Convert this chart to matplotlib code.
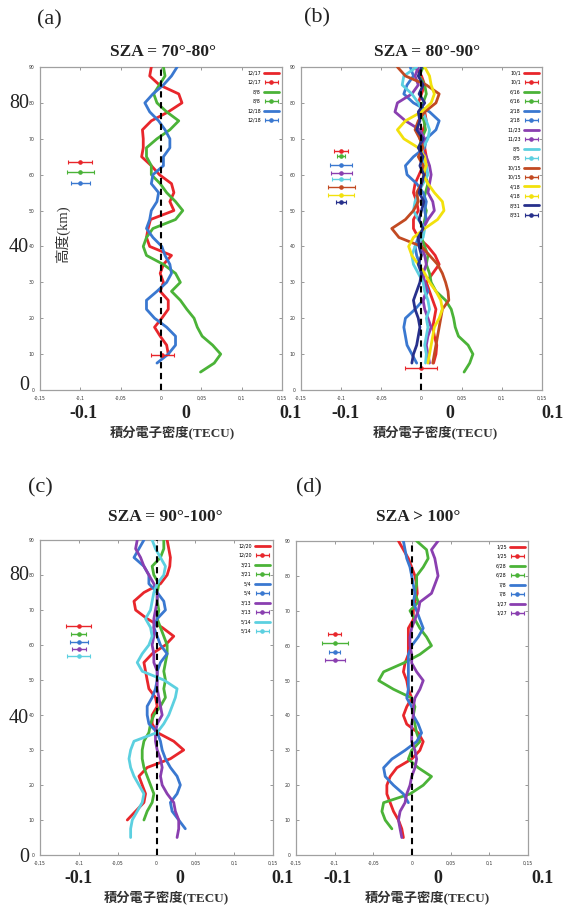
import matplotlib
matplotlib.use('Agg')
import matplotlib.pyplot as plt
from matplotlib.ticker import FuncFormatter, MultipleLocator
from matplotlib.container import ErrorbarContainer
from matplotlib.legend_handler import HandlerErrorbar

# ---------------- data ----------------
ALT = [90, 87.5, 85, 82.5, 80, 77.5, 75, 72.5, 70, 67.5, 65, 62.5, 60, 57.5, 55, 52.5, 50,
       47.5, 45, 42.5, 40, 37.5, 35, 32.5, 30, 27.5, 25, 22.5, 20, 17.5, 15, 12.5, 10, 7.5, 5]

# panel (a) SZA = 70-80
A_LABELS = ['12/17', '8/8', '12/18']
A_1217 = [-0.012, -0.014, -0.002, 0.022, 0.026, 0.009, -0.012, -0.023, -0.022, -0.022, -0.024,
          -0.012, -0.002, 0.013, 0.016, 0.011, 0.016, -0.013, -0.016, -0.018, -0.014, 0.013,
          0.003, -0.001, 0.003, -0.001, 0.009, 0.009, 0.001, -0.008, -0.001, 0.007, 0.009]
A_88 = [0.003, 0.005, -0.002, -0.009, -0.005, 0.007, 0.022, 0.011, -0.005, -0.018, -0.018,
        -0.012, -0.012, -0.001, 0.007, 0.018, 0.027, 0.018, -0.010, -0.018, -0.022, -0.018,
        0.003, 0.018, 0.024, 0.013, 0.024, 0.032, 0.041, 0.045, 0.051, 0.064, 0.074, 0.066, 0.049]
A_1218 = [0.020, 0.013, 0.003, -0.010, -0.020, -0.014, -0.003, 0.005, 0.011, 0.011, 0.003,
          0.003, -0.010, -0.012, -0.003, -0.005, -0.012, -0.014, -0.018, -0.010, 0.001, 0.005,
          0.011, 0.013, 0.007, -0.005, -0.018, -0.018, -0.008, 0.007, 0.018, 0.018, 0.009, -0.005]
A_ERR_X = [[-0.1, 0.0015], [-0.1], [-0.1]]
A_ERR_Y = [[63.4, 9.7], [60.7], [57.6]]
A_ERR_W = [[0.015, 0.0145], [0.017], [0.012]]

# panel (b) SZA = 80-90
B_LABELS = ['10/1', '6/16', '2/18', '11/23', '8/5', '10/15', '4/18', '8/31']
B_101 = [-0.008, 0.0, 0.004, 0.0, -0.004, 0.004, 0.006, 0.002, -0.002, 0.004, 0.006, 0.002,
         -0.003, -0.008, -0.010, -0.006, -0.004, -0.010, -0.010, -0.004, 0.008, 0.017, 0.022,
         0.014, 0.006, 0.010, 0.014, 0.018, 0.016, 0.014, 0.016, 0.019, 0.018, 0.015]
B_616 = [0.002, -0.003, 0.004, 0.006, 0.002, -0.002, 0.003, 0.005, 0.0, -0.003, 0.003, 0.006,
         0.004, 0.008, 0.005, 0.002, 0.006, 0.004, 0.002, 0.0, 0.004, 0.008, 0.006, 0.010, 0.012,
         0.018, 0.030, 0.037, 0.040, 0.042, 0.046, 0.058, 0.064, 0.060, 0.053]
B_218 = [-0.014, -0.010, -0.018, -0.022, -0.010, 0.010, 0.022, 0.018, 0.006, 0.004, -0.010,
         -0.020, -0.018, -0.006, 0.002, 0.006, 0.004, 0.006, 0.002, -0.004, -0.008, -0.006,
         -0.002, 0.0, 0.004, 0.008, 0.002, -0.008, -0.020, -0.022, -0.020, -0.018, -0.012, -0.006]
B_1123 = [-0.004, -0.008, -0.004, -0.012, -0.030, -0.033, -0.020, -0.002, 0.004, -0.002, 0.006,
          0.010, 0.012, 0.010, 0.008, 0.014, 0.016, 0.008, 0.002, -0.002, 0.0, 0.004, 0.006,
          0.002, 0.004, 0.006, 0.002, 0.004, 0.008, 0.012, 0.008, 0.006, 0.008, 0.010]
B_85 = [-0.006, -0.022, -0.024, -0.012, -0.004, 0.002, 0.006, 0.010, 0.008, 0.002, 0.0, 0.006,
        0.008, 0.002, -0.004, -0.008, -0.010, -0.004, 0.004, 0.002, -0.008, -0.012, -0.010,
        -0.004, 0.002, 0.004, 0.008, 0.010, 0.006, 0.008, 0.006, 0.004, 0.006, 0.005]
B_1015 = [-0.030, -0.020, 0.006, 0.022, 0.018, 0.004, -0.004, -0.008, -0.002, 0.002, -0.004,
          0.002, 0.004, 0.0, -0.006, -0.004, -0.010, -0.020, -0.037, -0.028, 0.0, 0.010, 0.020,
          0.026, 0.030, 0.033, 0.034, 0.026, 0.024, 0.022, 0.020, 0.018, 0.016, 0.014]
B_418 = [0.004, 0.010, 0.012, 0.016, 0.012, 0.0, -0.020, -0.030, -0.022, -0.004, 0.004, 0.006,
         0.002, 0.008, 0.016, 0.026, 0.028, 0.020, 0.004, -0.010, -0.016, -0.012, -0.004, 0.004,
         0.010, 0.018, 0.024, 0.026, 0.022, 0.016, 0.014, 0.012, 0.010, 0.008]
B_831 = [0.0, -0.004, 0.002, -0.003, 0.004, -0.004, -0.002, -0.006, 0.002, -0.004, 0.002,
         -0.002, 0.003, 0.0, -0.003, 0.003, 0.0, -0.003, 0.002, -0.004, -0.003, 0.0, -0.004,
         0.0, -0.002, -0.006, -0.010, -0.008, -0.004, -0.002, -0.004, -0.006, -0.010, -0.012]
B_ERR_X = [[-0.1, -0.001], [-0.1], [-0.1], [-0.1], [-0.1], [-0.1], [-0.1], [-0.1]]
B_ERR_Y = [[66.7, 6.0], [65.2], [62.8], [60.6], [58.8], [56.5], [54.3], [52.3]]
B_ERR_W = [[0.009, 0.0197], [0.0046], [0.014], [0.013], [0.011], [0.017], [0.016], [0.006]]

# panel (c) SZA = 90-100
C_LABELS = ['12/20', '3/21', '5/4', '3/13', '5/14']
C_1220 = [0.0137, 0.0158, 0.0179, 0.0171, 0.0137, 0.0051, -0.0162, -0.0290, -0.0269, -0.0120,
          0.0073, 0.0222, 0.0115, -0.0056, -0.0162, -0.0141, -0.0120, -0.0098, -0.0013, 0.0009,
          -0.0056, -0.0056, 0.0009, 0.0222, 0.0350, 0.0179, -0.0120, -0.0226, -0.0184, -0.0141,
          -0.0162, -0.0269, -0.0376]
C_321 = [0.0094, 0.0094, 0.0051, -0.0056, -0.0034, 0.0030, 0.0009, 0.0009, 0.0030, 0.0009,
         0.0051, 0.0094, 0.0137, 0.0137, 0.0115, 0.0094, 0.0115, 0.0094, 0.0115, 0.0051, -0.0034,
         -0.0077, -0.0098, -0.0162, -0.0184, -0.0184, -0.0162, -0.0120, -0.0077, -0.0034,
         -0.0056, -0.0120, -0.0162]
C_54 = [-0.0162, -0.0226, -0.0290, -0.0162, -0.0098, -0.0098, 0.0009, 0.0094, 0.0115, 0.0009,
        -0.0034, 0.0009, 0.0051, 0.0137, 0.0051, 0.0009, 0.0009, -0.0013, -0.0056, -0.0120,
        -0.0120, -0.0098, 0.0009, 0.0051, 0.0073, 0.0115, 0.0179, 0.0265, 0.0307, 0.0265,
        0.0179, 0.0201, 0.0286, 0.0371]
C_313 = [-0.0248, -0.0269, -0.0205, -0.0162, -0.0098, -0.0034, 0.0009, 0.0009, -0.0013, -0.0034,
         -0.0034, -0.0034, -0.0056, -0.0034, -0.0034, 0.0009, 0.0009, 0.0009, 0.0030, 0.0051,
         0.0073, 0.0009, -0.0013, -0.0013, 0.0009, 0.0051, 0.0073, 0.0051, 0.0073, 0.0137,
         0.0222, 0.0243, 0.0286, 0.0286, 0.0265]
C_514 = [-0.0056, -0.0013, 0.0051, 0.0115, 0.0094, 0.0009, -0.0034, -0.0056, -0.0077, -0.0141,
         -0.0077, -0.0056, -0.0098, -0.0184, -0.0248, -0.0184, 0.0094, 0.0265, 0.0243, 0.0201,
         0.0158, 0.0094, 0.0009, -0.0290, -0.0333, -0.0354, -0.0333, -0.0290, -0.0226, -0.0162,
         -0.0184, -0.0248, -0.0312, -0.0333, -0.0333]
C_ERR_X = [[-0.1], [-0.1], [-0.1], [-0.1], [-0.1]]
C_ERR_Y = [[65.5], [63.1], [60.9], [58.9], [56.9]]
C_ERR_W = [[0.016], [0.0096], [0.012], [0.009], [0.015]]

# panel (d) SZA > 100
D_LABELS = ['1/25', '6/28', '7/8', '1/27']
D_125 = [-0.0175, -0.0111, -0.0047, -0.0004, 0.0038, 0.0060, 0.0068, 0.0038, 0.0017, 0.0017,
         -0.0047, -0.0047, -0.0047, -0.0047, -0.0090, -0.0111, -0.0068, -0.0047, -0.0004,
         -0.0068, -0.0111, -0.0068, 0.0081, 0.0145, 0.0102, -0.0004, -0.0196, -0.0282, -0.0325,
         -0.0325, -0.0282, -0.0239, -0.0175, -0.0132, -0.0111]
D_628 = [0.0060, 0.0188, 0.0209, 0.0145, 0.0060, 0.0060, 0.0038, 0.0081, -0.0026, 0.0038,
         0.0102, 0.0188, 0.0252, 0.0102, -0.0111, -0.0367, -0.0431, -0.0239, -0.0004, 0.0038,
         0.0017, 0.0038, 0.0060, 0.0102, -0.0004, -0.0047, 0.0081, 0.0252, 0.0145, -0.0026,
         -0.0367, -0.0389, -0.0346, -0.0260]
D_78 = [-0.0111, -0.0090, -0.0068, -0.0026, -0.0004, 0.0017, 0.0038, 0.0017, 0.0060, 0.0102,
        0.0145, 0.0081, -0.0004, -0.0047, -0.0047, -0.0047, -0.0047, -0.0047, -0.0068, -0.0004,
        0.0017, 0.0081, 0.0124, 0.0060, -0.0090, -0.0260, -0.0367, -0.0346, -0.0239, -0.0111,
        -0.0047]
D_127 = [0.0337, 0.0252, 0.0295, 0.0316, 0.0337, 0.0295, 0.0252, 0.0102, 0.0081, 0.0038,
         -0.0004, -0.0026, -0.0026, -0.0004, -0.0004, 0.0060, 0.0145, 0.0102, 0.0038, 0.0017,
         0.0017, -0.0004, -0.0004, -0.0004, 0.0038, 0.0060, 0.0038, -0.0004, -0.0026, -0.0068,
         -0.0090, -0.0154, -0.0175, -0.0154, -0.0132]
D_ERR_X = [[-0.1], [-0.1], [-0.1], [-0.1]]
D_ERR_Y = [[63.3], [60.7], [58.3], [55.9]]
D_ERR_W = [[0.008], [0.017], [0.0075], [0.013]]

TITLES = ['SZA = 70°-80°', 'SZA = 80°-90°', 'SZA = 90°-100°', 'SZA > 100°']
PANEL_TAGS = ['(a)', '(b)', '(c)', '(d)']
XLABEL = '積分電子密度(TECU)'
YLABEL = '高度(km)'
BIG_X = ['-0.1', '0', '0.1']
BIG_Y = ['80', '40', '0']

RED, GREEN, BLUE, PURPLE = '#e8262b', '#4bb338', '#3a78d0', '#8a3fb0'
CYAN, BROWN, YELLOW, NAVY = '#5cd0e0', '#c24a22', '#f2e10c', '#27308c'

# ---------------- figure ----------------
W, H = 564, 905
fig = plt.figure(figsize=(W / 100, H / 100), dpi=100)
fig.patch.set_facecolor('white')

SERIF = ['Liberation Serif', 'DejaVu Serif']
MIX = ['Liberation Serif', 'Noto Sans CJK JP']


def fx(x):
    return x / W


def fy(y):
    return 1 - y / H


def tick_fmt(v, pos):
    v = round(v, 2)
    if v == 0:
        return '0'
    return f'{v:g}'.replace('.', ',')


def make_axes(l, t, r, b):
    ax = fig.add_axes([fx(l), fy(b), (r - l) / W, (b - t) / H])
    ax.set_xlim(-0.15, 0.15)
    ax.set_ylim(0, 90)
    ax.xaxis.set_major_locator(MultipleLocator(0.05))
    ax.yaxis.set_major_locator(MultipleLocator(10))
    ax.xaxis.set_major_formatter(FuncFormatter(tick_fmt))
    ax.tick_params(direction='in', length=2, width=0.6, labelsize=3.3, top=True, right=True,
                   color='#888888', labelcolor='#333333', pad=4)
    for s in ax.spines.values():
        s.set_color('#a0a0a0')
        s.set_linewidth(0.9)
    ax.axvline(0, color='black', lw=1.5, ls=(0, (3.0, 2.2)), zorder=6)
    return ax


def draw_panel(ax, labels, series, colors, ex, ey, ew):
    handles, labs = [], []
    for lab, xs, c, exx, eyy, eww in zip(labels, series, colors, ex, ey, ew):
        ln, = ax.plot(xs, ALT[:len(xs)], color=c, lw=2.0, solid_capstyle='round',
                      solid_joinstyle='round', zorder=3)
        eb = ax.errorbar(exx, eyy, xerr=eww, fmt='o', color=c, ms=2.3, lw=1.0,
                         capsize=1.6, capthick=0.8, zorder=4)
        handles += [ln, eb]
        labs += [lab, lab]
    ax.legend(handles, labs, loc='upper right', fontsize=3.4, frameon=False,
              markerfirst=False, handlelength=3.2, labelspacing=0.95, borderaxespad=0.3,
              handletextpad=0.6,
              handler_map={ErrorbarContainer: HandlerErrorbar(xerr_size=1.4)})


axA = make_axes(40, 67, 282, 390)
draw_panel(axA, A_LABELS, [A_1217, A_88, A_1218], [RED, GREEN, BLUE], A_ERR_X, A_ERR_Y, A_ERR_W)
axB = make_axes(301, 67, 542, 390)
draw_panel(axB, B_LABELS, [B_101, B_616, B_218, B_1123, B_85, B_1015, B_418, B_831],
           [RED, GREEN, BLUE, PURPLE, CYAN, BROWN, YELLOW, NAVY], B_ERR_X, B_ERR_Y, B_ERR_W)
axC = make_axes(40, 540, 273, 855)
draw_panel(axC, C_LABELS, [C_1220, C_321, C_54, C_313, C_514], [RED, GREEN, BLUE, PURPLE, CYAN],
           C_ERR_X, C_ERR_Y, C_ERR_W)
axD = make_axes(296, 541, 528, 855)
draw_panel(axD, D_LABELS, [D_125, D_628, D_78, D_127], [RED, GREEN, BLUE, PURPLE],
           D_ERR_X, D_ERR_Y, D_ERR_W)

# titles
for (cx, cy), t in zip([(163, 52), (427, 52), (165, 517), (418, 517)], TITLES):
    fig.text(fx(cx), fy(cy), t, ha='center', va='center', fontsize=12.5, fontweight='bold',
             family=SERIF, color='#222222')

# panel tags
for (cx, cy), t in zip([(49, 20), (317, 18), (40, 488), (309, 488)], PANEL_TAGS):
    fig.text(fx(cx), fy(cy), t, ha='center', va='center', fontsize=16, family=SERIF,
             color='#222222')

# x labels
for cx, cy in [(172, 432), (435, 432), (166, 897), (427, 897)]:
    fig.text(fx(cx), fy(cy), XLABEL, ha='center', va='center', fontsize=9.5,
             fontweight='bold', family=MIX, color='#333333')

# y label (panel a only)
fig.text(fx(62), fy(234), YLABEL, ha='center', va='center', rotation=90, fontsize=10.5,
         family=MIX, color='#333333')

# big overlay tick numbers
for row_y, xs in [(413, [(83, 186, 290), (345, 450, 553)]), (878, [(78, 180, 283), (337, 438, 542)])]:
    for trip in xs:
        for cx, t in zip(trip, BIG_X):
            fig.text(fx(cx), fy(row_y), t, ha='center', va='center', fontsize=13,
                     fontweight='bold', family=SERIF, color='#222222')

for ys in [(103, 247, 385), (576, 718, 857)]:
    for cy, t in zip(ys, BIG_Y):
        fig.text(fx(29), fy(cy), t, ha='right', va='center', fontsize=14.5,
                 family=SERIF, color='#222222')

fig.savefig('out.png', dpi=100)
